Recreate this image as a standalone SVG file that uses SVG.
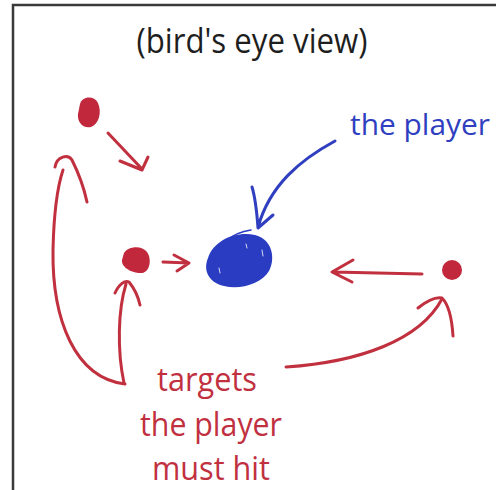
<svg xmlns="http://www.w3.org/2000/svg" width="496" height="490" viewBox="0 0 496 490">
  <style>
    .frame { fill: none; stroke: #3a3a3a; stroke-width: 2.5; }
    .txt { font-family: "Open Sans", Lato, sans-serif; text-anchor: middle; }
    .title { fill: #1e1e1e; font-size: 34px; }
    .blue-t { fill: #2f3fc0; font-size: 30px; }
    .red-t { fill: #c1303f; font-size: 33px; }
    .red { fill: none; stroke: #c1303f; stroke-width: 3; stroke-linecap: round; stroke-linejoin: round; }
    .blue { fill: none; stroke: #2f3fc0; stroke-width: 3; stroke-linecap: round; stroke-linejoin: round; }
    .dot { fill: #c1283c; }
    .player { fill: #2a3cc2; }
  </style>

  <!-- page frame -->
  <path class="frame" d="M13 490 V5 H496"/>

  <g id="title">
    <text class="txt title" x="252" y="53" textLength="231" lengthAdjust="spacingAndGlyphs">(bird's eye view)</text>
  </g>

  <g id="label-player">
    <text class="txt blue-t" x="420" y="135" textLength="140" lengthAdjust="spacingAndGlyphs">the player</text>
  </g>

  <g id="label-targets">
    <text class="txt red-t" x="207" y="391" textLength="100" lengthAdjust="spacingAndGlyphs">targets</text>
    <text class="txt red-t" x="211" y="436" textLength="142" lengthAdjust="spacingAndGlyphs">the player</text>
    <text class="txt red-t" x="211" y="480" textLength="118" lengthAdjust="spacingAndGlyphs">must hit</text>
  </g>

  <g id="target-top">
    <path class="dot" d="M80 104 C82 96 94 95 98 103 C102 112 99 124 91 127 C83 129 77 122 78 114 Z"/>
  </g>
  <g id="target-mid">
    <path class="dot" d="M124 253 C128 246 142 245 147 252 C152 259 150 272 142 273 C134 274 121 268 122 260 Z"/>
  </g>
  <g id="target-right">
    <circle class="dot" cx="452" cy="270" r="10"/>
  </g>

  <g id="player">
    <path class="player" d="M208 258 C214 240 236 231 255 235 C272 239 276 258 269 271 C261 284 240 290 224 286 C208 282 203 270 208 258 Z"/>
    <path fill="none" stroke="#2a3cc2" stroke-width="1.5" stroke-linecap="round" d="M226 241 C234 234 244 231 251 230"/>
    <path fill="none" stroke="#ffffff" stroke-width="1" stroke-linecap="round" opacity="0.8" d="M246 244 L247 248 M262 250 L263 256 M219 268 L220 273"/>
  </g>

  <g id="connectors">
    <!-- top target to player -->
    <path class="red" d="M108 133 L142 169 M120 161 L142 170 L148 157"/>
    <!-- middle target to player -->
    <path class="red" d="M163 262 L189 263 M174 255 L189 263 L177 271"/>
    <!-- right target to player -->
    <path class="red" d="M422 274 L333 272 M353 260 L332 272 L352 282"/>
    <!-- label to player -->
    <path class="blue" d="M335 141 C300 160 270 185 258 227 M252 187 C256 200 257 214 258 228 L273 215"/>
    <!-- label to top target -->
    <path class="red" d="M125 384 C75 378 52 320 53 250 C54 205 58 185 63 170"/>
    <path class="red" d="M55 167 C57 156 68 154 72 160 C78 172 84 188 87 202"/>
    <!-- label to middle target -->
    <path class="red" d="M124 383 C117 350 118 310 126 284"/>
    <path class="red" d="M115 293 C119 284 125 280 129 282 C134 288 138 296 140 305"/>
    <!-- label to right target -->
    <path class="red" d="M286 367 C360 362 420 340 442 299"/>
    <path class="red" d="M418 308 C428 300 437 297 442 298 C449 305 452 320 453 336"/>
  </g>
</svg>
